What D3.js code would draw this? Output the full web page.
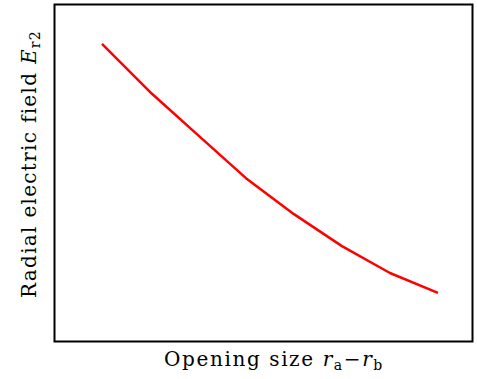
<!DOCTYPE html>
<html><head><meta charset="utf-8">
<script src="https://cdn.jsdelivr.net/npm/d3@7"></script>
<style>body{margin:0;background:#fff}svg{display:block}</style>
</head><body>
<svg id="c" width="477" height="379"></svg>
<script>
const openingSize = [1, 2, 3, 4, 5, 6, 7, 8];
const radialField = [0.883, 0.740, 0.612, 0.484, 0.377, 0.282, 0.202, 0.143];
const xLabel = "Opening size";
const yLabel = "Radial electric field";

const svg = d3.select("#c");
const L = 54.5, R = 472.5, T = 4.5, B = 341.5;
const x = d3.scaleLinear().domain([0, 8.72]).range([L - 0.5, R]);
const y = d3.scaleLinear().domain([0, 1]).range([B - 0.5, T]);

svg.append("rect").attr("x", L).attr("y", T).attr("width", R - L).attr("height", B - T)
  .attr("fill", "none").attr("stroke", "#000").attr("stroke-width", 2);

const line = d3.line().x((d, i) => x(openingSize[i])).y(d => y(d));
svg.append("path").datum(radialField).attr("d", line)
  .attr("fill", "none").attr("stroke", "#ff0000").attr("stroke-width", 2.5)
  .attr("stroke-linejoin", "round");

const font = "'DejaVu Serif', 'Liberation Serif', serif";
const xt = svg.append("text").attr("x", 274).attr("y", 366)
  .attr("text-anchor", "middle").attr("font-family", font).attr("font-size", 20)
  .attr("letter-spacing", 1.6).attr("fill", "#000");
xt.append("tspan").text(xLabel + " ");
xt.append("tspan").attr("font-style", "italic").text("r");
xt.append("tspan").attr("font-size", 14).attr("dy", 4).text("a");
xt.append("tspan").attr("dy", -4).text("\u2212");
xt.append("tspan").attr("font-style", "italic").text("r");
xt.append("tspan").attr("font-size", 14).attr("dy", 4).text("b");

const yt = svg.append("text").attr("transform", `translate(36,164) rotate(-90)`)
  .attr("text-anchor", "middle").attr("font-family", font).attr("font-size", 20)
  .attr("letter-spacing", 1.3).attr("fill", "#000");
yt.append("tspan").text(yLabel + " ");
yt.append("tspan").attr("font-style", "italic").text("E");
yt.append("tspan").attr("font-size", 14).attr("dy", 4).text("r2");
</script>
</body></html>
